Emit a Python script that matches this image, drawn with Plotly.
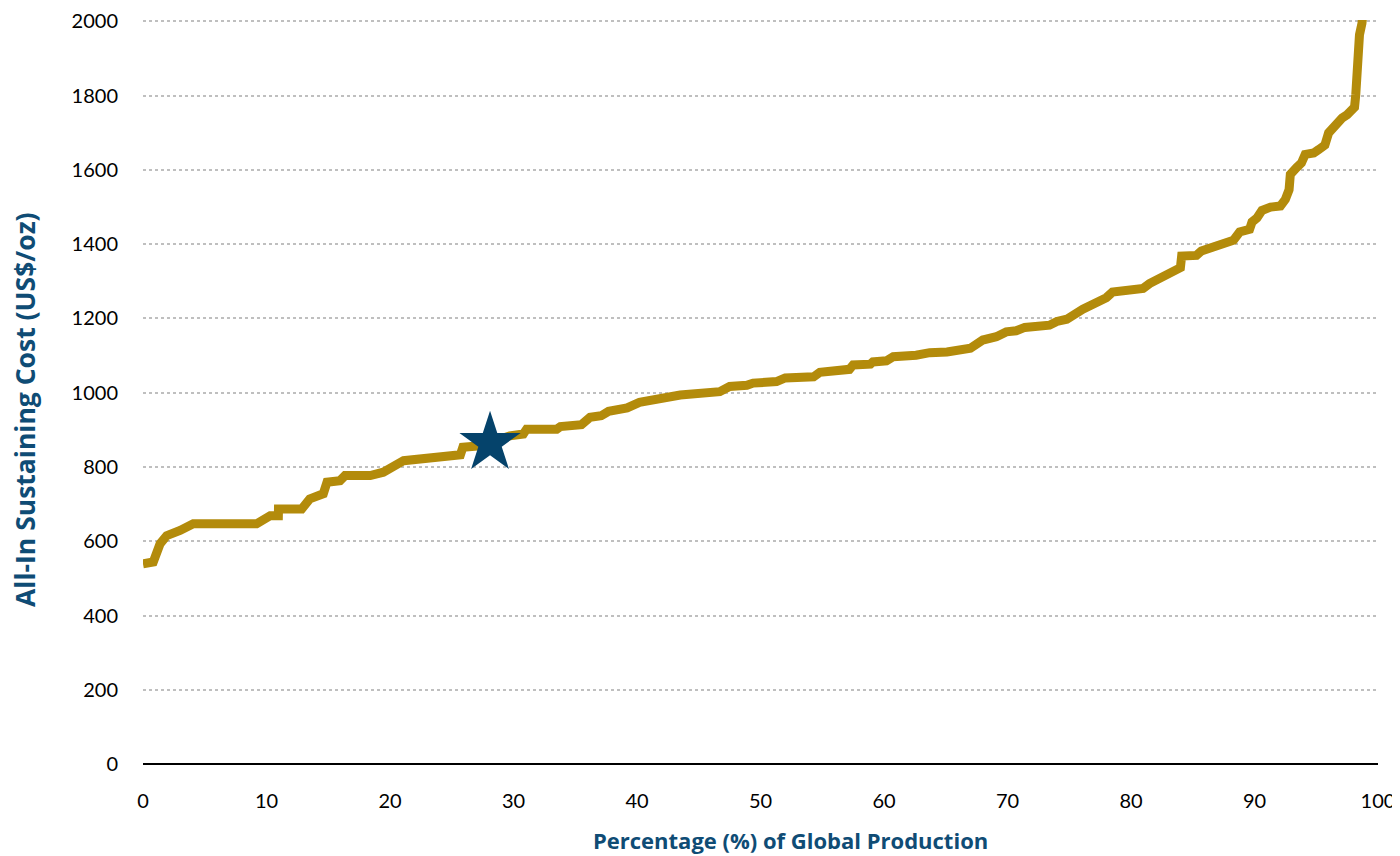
import plotly.graph_objects as go

# Cumulative % of global production
pct_production = [0.0, 0.83, 1.38, 1.92, 3.0, 4.07, 9.2, 10.3, 10.96, 10.97, 12.85, 13.5, 14.6, 14.9,
                  15.95, 16.36, 18.4, 19.46, 21.1, 22.7, 25.7, 25.9, 27.3, 29.7, 30.8, 31.06, 33.5,
                  33.8, 35.5, 36.2, 37.1, 37.7, 39.2, 40.2, 41.6, 43.5, 46.7, 47.5, 48.9, 49.4, 51.3,
                  52.0, 54.3, 54.8, 57.2, 57.5, 58.9, 59.1, 60.2, 60.75, 62.6, 63.7, 65.1, 67.0,
                  68.0, 69.1, 69.9, 70.7, 71.4, 73.4, 74.0, 74.8, 76.1, 77.2, 78.0, 78.5, 79.6,
                  80.0, 80.98, 81.5, 82.3, 83.3, 84.0, 84.1, 85.3, 85.7, 86.6, 87.7, 88.3, 88.8,
                  89.6, 89.8, 90.2, 90.6, 91.3, 92.1, 92.5, 92.8, 92.9, 93.4, 93.8, 94.1, 94.8,
                  95.2, 95.7, 96.0, 96.4, 97.1, 97.5, 98.1, 98.2, 98.3, 98.5, 98.7, 98.9]
# All-in sustaining cost (US$/oz)
aisc = [539, 544, 593, 615, 629, 647, 647, 669, 669, 687, 687, 714, 728, 759,
        763, 777, 777, 786, 817, 824, 833, 853, 857, 884, 889, 902, 902,
        909, 914, 934, 938, 950, 959, 974, 981, 994, 1003, 1017, 1020, 1026, 1030,
        1040, 1043, 1055, 1063, 1075, 1077, 1083, 1086, 1097, 1101, 1108, 1110, 1120,
        1142, 1151, 1164, 1167, 1176, 1182, 1192, 1198, 1225, 1243, 1256, 1271, 1274,
        1279, 1281, 1294, 1308, 1319, 1337, 1368, 1370, 1382, 1392, 1400, 1411, 1433,
        1440, 1460, 1471, 1491, 1500, 1503, 1521, 1547, 1588, 1606, 1619, 1642, 1646,
        1655, 1667, 1700, 1718, 1740, 1749, 1769, 1803, 1933, 1964, 1995, 2060]

star_x = [28.1]
star_y = [865]

x_ticks = [0, 10, 20, 30, 40, 50, 60, 70, 80, 90, 100]
y_ticks = [0, 200, 400, 600, 800, 1000, 1200, 1400, 1600, 1800, 2000]

x_title = "Percentage (%) of Global Production"
y_title = "All-In Sustaining Cost (US$/oz)"

GOLD = "#B38B0B"
NAVY = "#05436B"
TITLE_BLUE = "#0F4C75"

fig = go.Figure()
fig.add_trace(go.Scatter(x=pct_production, y=aisc, mode="lines",
                         line=dict(color=GOLD, width=9), hoverinfo="skip",
                         showlegend=False))
fig.add_trace(go.Scatter(x=star_x, y=star_y, mode="markers",
                         marker=dict(symbol="star", size=46, color=NAVY,
                                     line=dict(width=0)),
                         showlegend=False))

fig.update_layout(
    width=1392, height=848,
    margin=dict(l=135, r=22, t=12, b=92),
    paper_bgcolor="white", plot_bgcolor="white",
    font=dict(family="Lato, 'Open Sans', sans-serif", size=20, color="black"),
    xaxis=dict(range=[0, 100], tickvals=x_ticks, showgrid=False, zeroline=False,
               showline=False, ticks="", ticklen=0, automargin=False,
               ticklabelstandoff=23, ticklabeloverflow="allow",
               tickfont=dict(size=20, color="black")),
    yaxis=dict(range=[0, 2004], tickvals=y_ticks, showgrid=True,
               gridcolor="#BFBFBF", griddash="dot", gridwidth=2,
               zeroline=True, zerolinecolor="black", zerolinewidth=2,
               showline=False, ticks="", ticklabelstandoff=24, automargin=False,
               ticklabeloverflow="allow",
               tickfont=dict(size=20, color="black")),
    annotations=[
        dict(text="<b>" + x_title + "</b>", xref="paper", yref="paper",
             x=0.524, y=-0.102, xanchor="center", yanchor="middle", showarrow=False,
             font=dict(family="Open Sans, sans-serif", size=22, color=TITLE_BLUE)),
        dict(text="<b>" + y_title + "</b>", xref="paper", yref="paper", textangle=-90,
             x=-0.0955, y=0.476, xanchor="center", yanchor="middle", showarrow=False,
             font=dict(family="Open Sans, sans-serif", size=26.5, color=TITLE_BLUE)),
    ],
)

fig.write_html("out.html")
